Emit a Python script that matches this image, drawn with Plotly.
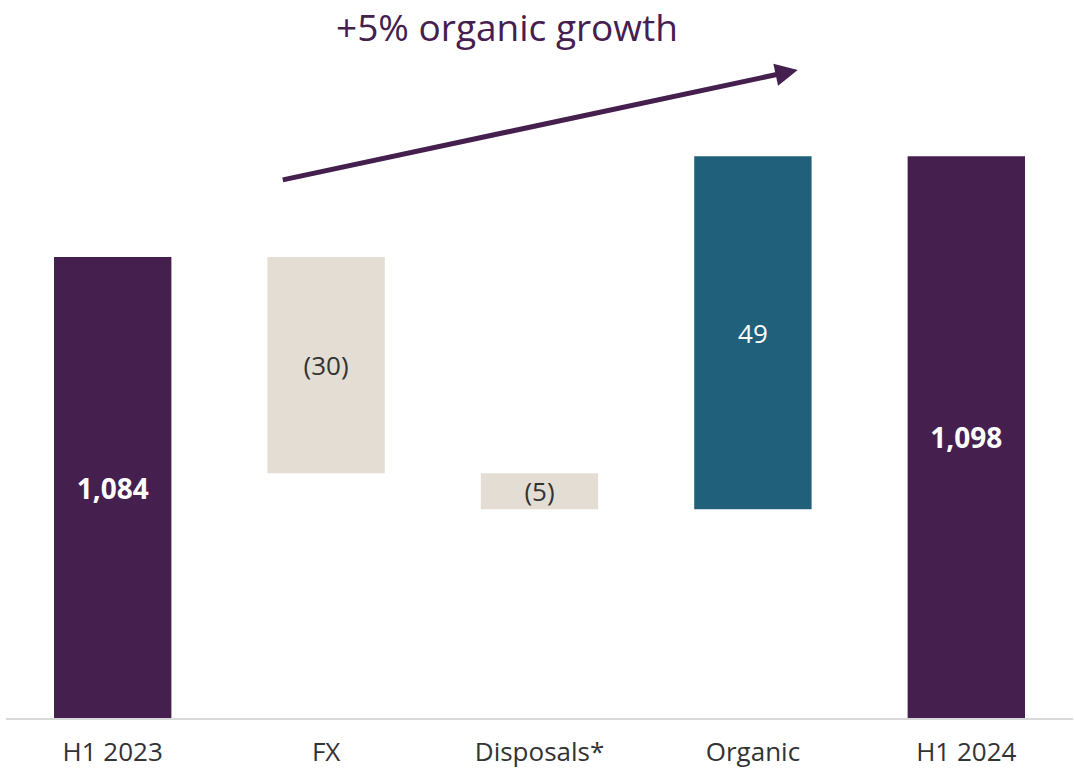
import plotly.graph_objects as go

categories = ["H1 2023", "FX", "Disposals*", "Organic", "H1 2024"]
values = [1084, -30, -5, 49, 1098]
kinds = ["total", "delta", "delta", "delta", "total"]
labels = ["1,084", "(30)", "(5)", "49", "1,098"]
AXIS_MIN, AXIS_MAX = 1020, 1119.7

PURPLE = "#45204F"
TEAL = "#20607A"
BEIGE = "#E3DDD3"
FONT = "Open Sans"

bases, heights, colors, tcolors, tsizes = [], [], [], [], []
running = 0
for v, k in zip(values, kinds):
    if k == "total":
        bases.append(AXIS_MIN)
        heights.append(v - AXIS_MIN)
        running = v
        colors.append(PURPLE)
        tcolors.append("white")
        tsizes.append(28)
    else:
        new = running + v
        bases.append(min(running, new))
        heights.append(abs(v))
        running = new
        colors.append(TEAL if v > 0 else BEIGE)
        tcolors.append("white" if v > 0 else "#333333")
        tsizes.append(26)

shown = [f"<b>{t}</b>" if k == "total" else t for t, k in zip(labels, kinds)]

fig = go.Figure(go.Bar(
    x=categories, y=heights, base=bases,
    marker=dict(color=colors, line=dict(width=0)),
    text=shown, textposition="inside", insidetextanchor="middle", textangle=0,
    constraintext="none",
    textfont=dict(color=tcolors, size=tsizes, family=FONT),
    cliponaxis=False, hoverinfo="skip",
))

fig.update_layout(
    width=1074, height=771,
    margin=dict(l=6, r=1, t=0, b=53),
    plot_bgcolor="white", paper_bgcolor="white",
    bargap=0.45, showlegend=False,
    font=dict(family=FONT, color="#333333"),
    xaxis=dict(showline=True, linecolor="#D9D9D9", linewidth=2,
               tickfont=dict(size=26, color="#333333", family=FONT),
               ticks="", ticklabelstandoff=10, fixedrange=True),
    yaxis=dict(range=[AXIS_MIN, AXIS_MAX], visible=False, showgrid=False, fixedrange=True),
    annotations=[
        dict(x=0.742, y=0.9025, ax=0.258, ay=0.749,
             xref="x domain", yref="y domain", axref="x domain", ayref="y domain",
             text="", showarrow=True,
             arrowhead=2, arrowsize=0.9, arrowwidth=5, arrowcolor=PURPLE),
        dict(x=0.4695, y=1.0, xref="paper", yref="paper", text="+5% organic growth",
             showarrow=False, font=dict(size=37, color=PURPLE, family=FONT),
             xanchor="center", yanchor="top", borderpad=0),
    ],
)
fig.write_html("out.html")
